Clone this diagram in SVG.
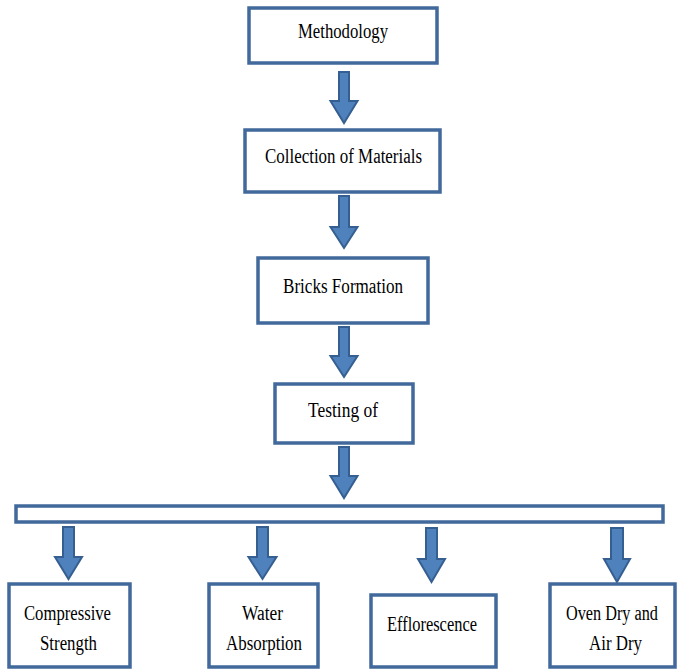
<svg xmlns="http://www.w3.org/2000/svg" width="678" height="670" viewBox="0 0 678 670">
<style>
.box{fill:#ffffff;stroke:#41699b;stroke-width:3.5}
.arr{fill:#4f81bd;stroke:#365f91;stroke-width:2;stroke-linejoin:miter}
</style>
<rect width="678" height="670" fill="#ffffff"/>
<g id="connectors">
<path class="arr" d="M339,72 H349 V101 H357.5 L344,123 L330.5,101 H339 Z"/>
<path class="arr" d="M339,196 H349 V227 H357.5 L344,248 L330.5,227 H339 Z"/>
<path class="arr" d="M339,327 H349 V356 H357.5 L344,377 L330.5,356 H339 Z"/>
<path class="arr" d="M339,447 H349 V476 H357.5 L344,498 L330.5,476 H339 Z"/>
<path class="arr" d="M63,527 H74 V557 H82 L68.5,579 L55,557 H63 Z"/>
<path class="arr" d="M257,527 H268 V557 H276.5 L262.5,579 L248.5,557 H257 Z"/>
<path class="arr" d="M426,528 H437 V559 H445 L431.5,582 L418,559 H426 Z"/>
<path class="arr" d="M611,528 H623 V559 H630 L617,582 L604,559 H611 Z"/>
</g>
<g font-family="'Liberation Serif', 'Times New Roman', serif" font-size="20" fill="#000">
<g id="methodology">
<rect class="box" x="249" y="8" width="188" height="55"/>
<text x="298" y="38" textLength="90" lengthAdjust="spacingAndGlyphs">Methodology</text>
</g>
<g id="collection">
<rect class="box" x="245" y="130" width="195" height="62"/>
<text x="265" y="163" textLength="157" lengthAdjust="spacingAndGlyphs">Collection of Materials</text>
</g>
<g id="bricks">
<rect class="box" x="258" y="258" width="170" height="65"/>
<text x="283" y="293" textLength="120" lengthAdjust="spacingAndGlyphs">Bricks Formation</text>
</g>
<g id="testing">
<rect class="box" x="275" y="384" width="138" height="59"/>
<text x="308" y="417" textLength="70" lengthAdjust="spacingAndGlyphs">Testing of</text>
</g>
<g id="bar">
<rect class="box" x="16" y="506" width="647" height="16"/>
</g>
<g id="compressive">
<rect class="box" x="9" y="584" width="121" height="83"/>
<text x="24" y="620" textLength="87" lengthAdjust="spacingAndGlyphs">Compressive</text>
<text x="40" y="650" textLength="57" lengthAdjust="spacingAndGlyphs">Strength</text>
</g>
<g id="water">
<rect class="box" x="209" y="584" width="109" height="83"/>
<text x="242" y="620" textLength="41" lengthAdjust="spacingAndGlyphs">Water</text>
<text x="226" y="650" textLength="76" lengthAdjust="spacingAndGlyphs">Absorption</text>
</g>
<g id="efflorescence">
<rect class="box" x="371" y="595" width="125" height="72"/>
<text x="387" y="631" textLength="90" lengthAdjust="spacingAndGlyphs">Efflorescence</text>
</g>
<g id="ovendry">
<rect class="box" x="550" y="584" width="125" height="83"/>
<text x="566" y="620" textLength="92" lengthAdjust="spacingAndGlyphs">Oven Dry and</text>
<text x="589" y="650" textLength="53" lengthAdjust="spacingAndGlyphs">Air Dry</text>
</g>
</g>
</svg>
